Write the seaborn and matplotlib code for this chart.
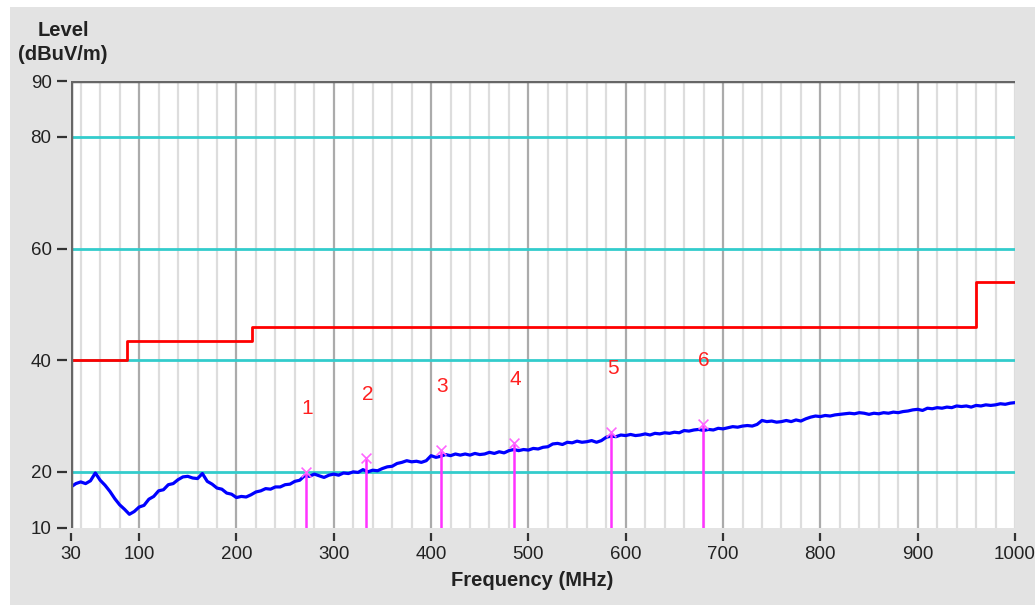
import numpy as np
import pandas as pd
import matplotlib
matplotlib.use("Agg")
import matplotlib.pyplot as plt
import seaborn as sns
from matplotlib.patches import Rectangle

# sweep 30 - 1000 MHz, 5 MHz step
freq = np.arange(30, 1001, 5)
level = [
    17.3, 17.9, 18.2, 17.9, 18.4, 19.8, 18.5, 17.6, 16.5, 15.2,
    14.1, 13.3, 12.4, 12.9, 13.7, 14.0, 15.1, 15.6, 16.6, 16.8,
    17.7, 17.9, 18.6, 19.1, 19.2, 18.9, 18.8, 19.7, 18.3, 17.8,
    17.1, 16.9, 16.2, 16.0, 15.4, 15.6, 15.5, 15.9, 16.4, 16.6,
    17.0, 16.9, 17.3, 17.3, 17.7, 17.8, 18.3, 18.5, 19.3, 19.2,
    19.6, 19.3, 19.0, 19.4, 19.6, 19.4, 19.8, 19.7, 20.0, 19.9,
    20.4, 20.0, 20.3, 20.2, 20.6, 20.9, 21.0, 21.5, 21.7, 22.0,
    21.8, 21.9, 21.7, 22.0, 22.9, 22.6, 22.8, 23.1, 22.9, 23.2,
    23.0, 23.2, 23.0, 23.3, 23.1, 23.2, 23.5, 23.3, 23.6, 23.4,
    23.8, 24.0, 23.8, 24.0, 23.9, 24.2, 24.1, 24.4, 24.5, 25.0,
    25.1, 24.9, 25.3, 25.2, 25.5, 25.3, 25.4, 25.6, 25.3, 25.6,
    26.2, 26.4, 26.3, 26.6, 26.5, 26.7, 26.5, 26.6, 26.8, 26.6,
    26.9, 26.8, 27.0, 26.9, 27.1, 27.0, 27.4, 27.3, 27.5, 27.6,
    27.4, 27.6, 27.5, 27.8, 27.7, 27.9, 28.1, 28.0, 28.2, 28.3,
    28.2, 28.5, 29.2, 29.0, 29.1, 28.9, 29.0, 29.2, 29.0, 29.3,
    29.1, 29.5, 29.8, 30.0, 29.9, 30.1, 30.0, 30.2, 30.3, 30.4,
    30.5, 30.4, 30.6, 30.5, 30.3, 30.5, 30.4, 30.6, 30.5, 30.7,
    30.6, 30.8, 30.9, 31.1, 31.2, 31.0, 31.4, 31.3, 31.5, 31.4,
    31.6, 31.5, 31.8, 31.7, 31.8, 31.6, 31.9, 31.8, 32.0, 31.9,
    32.0, 32.2, 32.1, 32.3, 32.4,
]

# limit line (steps)
limit_freq = [30, 88, 216, 960, 1000]
limit_level = [40, 43.5, 46, 54, 54]

# peak markers
mk_no = ["1", "2", "3", "4", "5", "6"]
mk_freq = [271, 333, 410, 485, 585, 679]
mk_level = [20.0, 22.4, 23.9, 25.1, 27.2, 28.6]

xticks = [30, 100, 200, 300, 400, 500, 600, 700, 800, 900, 1000]
yticks = [10, 20, 40, 60, 80, 90]

sns.set_style("white")
plt.rcParams["font.family"] = ["Liberation Sans", "DejaVu Sans"]

fig = plt.figure(figsize=(10.35, 6.05), dpi=100)
fig.patch.set_facecolor("#e3e3e3")
# white strips at top / left edge
fig.add_artist(Rectangle((0, 1 - 7 / 605), 1, 7 / 605, transform=fig.transFigure,
                         facecolor="white", edgecolor="none", zorder=-1))
fig.add_artist(Rectangle((0, 0), 10 / 1035, 1, transform=fig.transFigure,
                         facecolor="white", edgecolor="none", zorder=-1))

ax = fig.add_axes([71 / 1035, 1 - 527.7 / 605, (1015 - 71) / 1035, (527.7 - 81) / 605])
ax.set_facecolor("white")

# grid
for f in range(40, 1001, 20):
    if f % 100 == 0 and f < 1000:
        ax.axvline(f, color="#ababab", lw=1.6, zorder=0)
    else:
        ax.axvline(f, color="#dddddd", lw=1.6, zorder=0)
for yv in [20, 40, 60, 80]:
    ax.axhline(yv, color="#33cccc", lw=2, zorder=1)

df = pd.DataFrame({"freq": freq, "level": level})
sns.lineplot(data=df, x="freq", y="level", ax=ax, color="#0000ff", lw=2.3, zorder=3)

lim = pd.DataFrame({"freq": limit_freq, "level": limit_level})
sns.lineplot(data=lim, x="freq", y="level", ax=ax, color="#ff0000", lw=2,
             drawstyle="steps-post", zorder=2)

ax.vlines(mk_freq, 10, mk_level, color="#ff33ff", lw=1.8, zorder=4)
ax.scatter(mk_freq, mk_level, marker="x", s=50, color="#ff66ff", lw=1.2, zorder=5)
for n, f, l in zip(mk_no, mk_freq, mk_level):
    ax.text(f + 1.5, l + 11.4, n, color="#ff2020", fontsize=15,
            ha="center", va="center", zorder=6)

# frame: dark left/top border, ticks offset from the plot
ax.axvline(30, color="#666666", lw=2.5, zorder=7)
ax.axhline(90, color="#666666", lw=2.5, zorder=7)
for s in ["top", "right", "bottom", "left"]:
    ax.spines[s].set_visible(False)
ax.spines["left"].set_position(("outward", 3))
ax.spines["bottom"].set_position(("outward", 4))

ax.set_xlim(30, 1000)
ax.set_ylim(10, 90)
ax.set_xticks(xticks)
ax.set_yticks(yticks)
ax.tick_params(axis="x", direction="out", length=6, width=1.6, color="#333333",
               labelsize=13.5, labelcolor="#222222", pad=3, bottom=True)
ax.tick_params(axis="y", direction="out", length=7, width=1.6, color="#333333",
               labelsize=13.5, labelcolor="#222222", pad=4, left=True)
ax.set_xlabel("")
ax.set_ylabel("")

fig.text(532 / 1035, 1 - 580 / 605, "Frequency (MHz)", ha="center", va="center",
         fontsize=14.5, fontweight="bold", color="#222222")
fig.text(63 / 1035, 1 - 30 / 605, "Level", ha="center", va="center",
         fontsize=14.5, fontweight="bold", color="#222222")
fig.text(63 / 1035, 1 - 55 / 605, "(dBuV/m)", ha="center", va="center",
         fontsize=14.5, fontweight="bold", color="#222222")

fig.savefig("out.png", dpi=100, facecolor=fig.get_facecolor())
